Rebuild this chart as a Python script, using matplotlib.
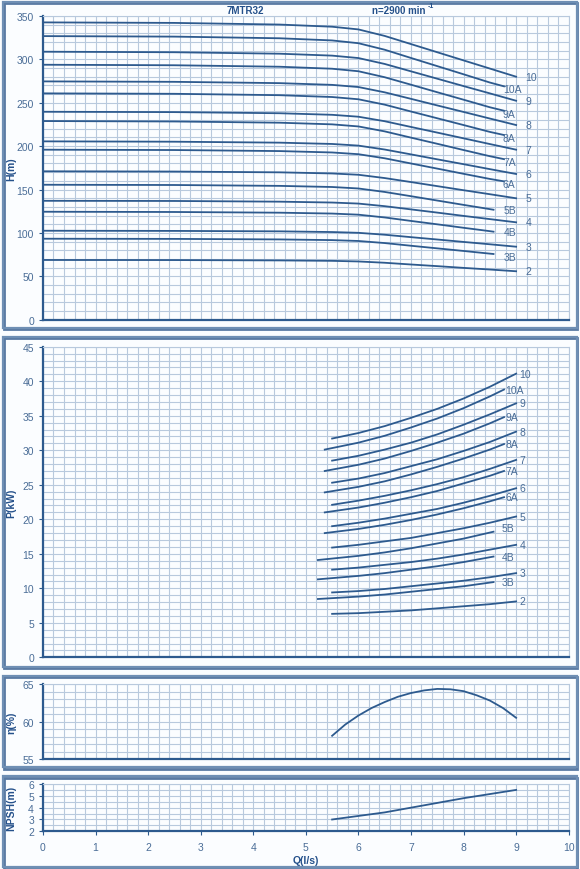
import matplotlib
matplotlib.use("Agg")
import matplotlib.pyplot as plt
from matplotlib.patches import Rectangle
from matplotlib.ticker import MultipleLocator

plt.rcParams["font.family"] = ["Liberation Sans", "DejaVu Sans"]

# ---- data ----
stage_names = ["10", "10A", "9", "9A", "8", "8A", "7", "7A", "6", "6A",
               "5", "5B", "4", "4B", "3", "3B", "2"]

q_full = [0, 2.5, 4.5, 5.5, 6, 6.5, 7, 7.5, 8, 8.5, 9]
q_a = [0, 2.5, 4.5, 5.5, 6, 6.5, 7, 7.5, 8, 8.5, 8.77]
q_b = [0, 2.5, 4.5, 5.5, 6, 6.5, 7, 7.5, 8, 8.5, 8.57]

head = {
    "10":  [342.6, 342.0, 340.1, 337.6, 334.5, 327.0, 317.6, 308.2, 298.8, 289.4, 280.0],
    "10A": [326.8, 326.2, 324.3, 321.8, 318.6, 311.1, 301.6, 292.2, 282.8, 273.3, 268.9],
    "9":   [308.8, 308.2, 306.5, 304.3, 301.5, 294.7, 286.2, 277.7, 269.2, 260.8, 252.3],
    "9A":  [293.8, 293.2, 291.5, 289.2, 286.3, 279.4, 270.8, 262.1, 253.5, 244.8, 240.8],
    "8":   [274.6, 274.1, 272.6, 270.6, 268.1, 262.0, 254.5, 246.9, 239.4, 231.8, 224.3],
    "8A":  [260.8, 260.3, 258.7, 256.6, 254.0, 247.8, 239.9, 232.1, 224.3, 216.4, 212.8],
    "7":   [239.6, 239.2, 237.9, 236.1, 233.9, 228.7, 222.1, 215.6, 209.0, 202.4, 195.9],
    "7A":  [228.9, 228.4, 227.0, 225.1, 222.7, 217.0, 209.8, 202.7, 195.5, 188.4, 185.0],
    "6":   [205.5, 205.1, 204.0, 202.5, 200.6, 196.1, 190.5, 184.8, 179.2, 173.5, 167.9],
    "6A":  [195.9, 195.5, 194.3, 192.7, 190.7, 186.0, 180.0, 174.1, 168.1, 162.2, 159.4],
    "5":   [171.0, 170.7, 169.8, 168.5, 167.0, 163.2, 158.6, 153.9, 149.2, 144.6, 139.9],
    "5B":  [155.5, 155.2, 154.2, 152.9, 151.2, 147.2, 142.3, 137.3, 132.3, 127.4, 126.7],
    "4":   [137.0, 136.8, 136.0, 135.0, 133.8, 130.8, 127.1, 123.4, 119.6, 115.9, 112.2],
    "4B":  [124.4, 124.1, 123.3, 122.3, 121.0, 117.8, 113.8, 109.9, 105.9, 102.0, 101.4],
    "3":   [102.5, 102.3, 101.8, 101.0, 100.1, 97.9, 95.1, 92.4, 89.6, 86.9, 84.1],
    "3B":  [93.3, 93.1, 92.5, 91.7, 90.7, 88.3, 85.2, 82.2, 79.2, 76.1, 75.7],
    "2":   [68.8, 68.7, 68.3, 67.8, 67.1, 65.6, 63.6, 61.7, 59.7, 57.8, 55.8],
}

qp_full = [5.5, 6, 6.5, 7, 7.5, 8, 8.5, 9]
qp_a = [5.36, 6, 6.5, 7, 7.5, 8, 8.5, 8.77]
qp_b = [5.23, 6, 6.5, 7, 7.5, 8, 8.57]

power = {
    "10":  [31.7, 32.5, 33.5, 34.7, 36.0, 37.5, 39.2, 41.1],
    "10A": [30.1, 31.1, 32.1, 33.3, 34.6, 36.1, 37.8, 38.8],
    "9":   [28.5, 29.2, 30.1, 31.1, 32.3, 33.7, 35.2, 36.8],
    "9A":  [27.0, 27.9, 28.8, 29.9, 31.1, 32.4, 33.9, 34.8],
    "8":   [25.3, 25.9, 26.7, 27.7, 28.7, 29.9, 31.2, 32.7],
    "8A":  [23.9, 24.7, 25.5, 26.5, 27.6, 28.8, 30.1, 30.9],
    "7":   [22.1, 22.7, 23.4, 24.2, 25.1, 26.1, 27.3, 28.6],
    "7A":  [21.0, 21.7, 22.4, 23.2, 24.1, 25.2, 26.3, 27.0],
    "6":   [19.0, 19.5, 20.1, 20.8, 21.5, 22.4, 23.4, 24.5],
    "6A":  [18.0, 18.6, 19.2, 19.9, 20.7, 21.6, 22.6, 23.2],
    "5":   [15.9, 16.3, 16.8, 17.3, 18.0, 18.7, 19.5, 20.4],
    "5B":  [14.1, 14.7, 15.2, 15.8, 16.5, 17.2, 18.2],
    "4":   [12.7, 13.0, 13.4, 13.8, 14.3, 14.9, 15.6, 16.3],
    "4B":  [11.3, 11.8, 12.2, 12.7, 13.2, 13.8, 14.6],
    "3":   [9.4, 9.6, 9.9, 10.3, 10.7, 11.1, 11.6, 12.2],
    "3B":  [8.45, 8.8, 9.1, 9.5, 9.9, 10.3, 10.9],
    "2":   [6.3, 6.4, 6.6, 6.8, 7.1, 7.4, 7.7, 8.1],
}

q_eta = [5.5, 5.75, 6, 6.25, 6.5, 6.75, 7, 7.25, 7.5, 7.75, 8, 8.25, 8.5, 8.75, 9]
eta = [58.1, 59.6, 60.8, 61.8, 62.6, 63.3, 63.8, 64.15, 64.35, 64.3, 64.05, 63.5, 62.8, 61.8, 60.5]

q_npsh = [5.5, 6, 6.5, 7, 7.5, 8, 8.5, 9]
npsh = [3.0, 3.3, 3.6, 4.0, 4.4, 4.8, 5.15, 5.5]

LINE = "#2d5a8e"
GRID = "#b8c9dd"
TXT = "#4a6d97"
LAB = "#24508a"
BOX = "#6f8fb4"
FS = 7.5


def q_for(name, full, a, b):
    if name.endswith("A"):
        return a
    if name.endswith("B"):
        return b
    return full


def style_axes(ax, ymin, ymax, ymajor, yminor, show_x=False):
    ax.set_xlim(0, 10)
    ax.set_ylim(ymin, ymax)
    ax.xaxis.set_major_locator(MultipleLocator(1))
    ax.xaxis.set_minor_locator(MultipleLocator(0.2))
    ax.yaxis.set_major_locator(MultipleLocator(ymajor))
    ax.yaxis.set_minor_locator(MultipleLocator(yminor))
    ax.grid(which="both", color=GRID, linewidth=0.8)
    ax.set_axisbelow(True)
    ax.set_facecolor("#fbfdff")
    for s in ("left", "bottom"):
        ax.spines[s].set_color(LINE)
        ax.spines[s].set_linewidth(1.6)
    for s in ("top", "right"):
        ax.spines[s].set_color(GRID)
        ax.spines[s].set_linewidth(0.8)
    ax.tick_params(axis="y", which="major", length=3, color=LINE, labelsize=FS, labelcolor=TXT)
    ax.tick_params(axis="y", which="minor", length=0)
    ax.tick_params(axis="x", which="minor", length=0)
    if show_x:
        ax.tick_params(axis="x", which="major", length=3, color=LINE, labelsize=FS,
                       labelcolor=TXT, pad=5)
    else:
        ax.tick_params(axis="x", which="major", length=0, labelbottom=False)


fig = plt.figure(figsize=(5.8, 8.7), dpi=100)
fig.patch.set_facecolor("#fbfdff")

# panel frames (darker edge on the right/bottom like the original sheet)
for bottom, top in [(0.6218, 0.9966), (0.2325, 0.6115), (0.1169, 0.2222), (0.002, 0.1066)]:
    fig.patches.append(Rectangle((0.0065, bottom - 0.0015), 0.989, top - bottom,
                                 transform=fig.transFigure, fill=False,
                                 edgecolor="#5a7aa3", linewidth=2.0))
    fig.patches.append(Rectangle((0.005, bottom), 0.989, top - bottom, transform=fig.transFigure,
                                 fill=False, edgecolor=BOX, linewidth=1.6))

left, width = 0.0741, 0.9064
ax_h = fig.add_axes([left, 0.6314, width, 0.3491])
ax_p = fig.add_axes([left, 0.2433, width, 0.3570])
ax_e = fig.add_axes([left, 0.1264, width, 0.0862])
ax_n = fig.add_axes([left, 0.0433, width, 0.0544])

style_axes(ax_h, 0, 350, 50, 10)
style_axes(ax_p, 0, 45, 5, 1)
style_axes(ax_e, 55, 65, 5, 1)
style_axes(ax_n, 2, 6, 1, 0.5, show_x=True)

# head curves
for name in stage_names:
    qs = q_for(name, q_full, q_a, q_b)
    hs = head[name]
    ax_h.plot(qs, hs, color=LINE, linewidth=1.3)
    if name.endswith("A"):
        ax_h.text(qs[-1] - 0.02, hs[-1] - 3.5, name, fontsize=FS, color=TXT, va="center", ha="left")
    elif name.endswith("B"):
        ax_h.text(qs[-1] + 0.2, hs[-1] - (3 if name == "3B" else 0), name, fontsize=FS,
                  color=TXT, va="center", ha="left")
    else:
        ax_h.text(9.18, hs[-1], name, fontsize=FS, color=TXT, va="center", ha="left")

# power curves
for name in stage_names:
    qs = q_for(name, qp_full, qp_a, qp_b)
    ps = power[name]
    ax_p.plot(qs, ps, color=LINE, linewidth=1.3)
    if name.endswith("A"):
        ax_p.text(qs[-1] + 0.02, ps[-1], name, fontsize=FS, color=TXT, va="center", ha="left")
    elif name.endswith("B"):
        ax_p.text(qs[-1] + 0.15, ps[-1] + (0.5 if name == "5B" else 0), name, fontsize=FS,
                  color=TXT, va="center", ha="left")
    else:
        ax_p.text(9.06, ps[-1], name, fontsize=FS, color=TXT, va="center", ha="left")

ax_e.plot(q_eta, eta, color=LINE, linewidth=1.3)
ax_n.plot(q_npsh, npsh, color=LINE, linewidth=1.3)

# axis labels
for ax, lab in [(ax_h, "H(m)"), (ax_p, "P(kW)"), (ax_e, "η(%)"), (ax_n, "NPSH(m)")]:
    ax.set_ylabel(lab, fontsize=FS, fontweight="bold", color=LAB)
    ax.yaxis.set_label_coords(-0.05, 0.5)
ax_n.set_xlabel("Q(l/s)", fontsize=FS, fontweight="bold", color=LAB, labelpad=2)

fig.text(0.4224, 0.9874, "7MTR32", fontsize=7, fontweight="bold", color=LAB, ha="center", va="center")
fig.text(0.641, 0.9874, "n=2900 min", fontsize=7, fontweight="bold", color=LAB, ha="left", va="center")
fig.text(0.738, 0.9925, "-1", fontsize=5, fontweight="bold", color=LAB, ha="left", va="center")

fig.savefig("out.png", dpi=100, facecolor=fig.get_facecolor())
